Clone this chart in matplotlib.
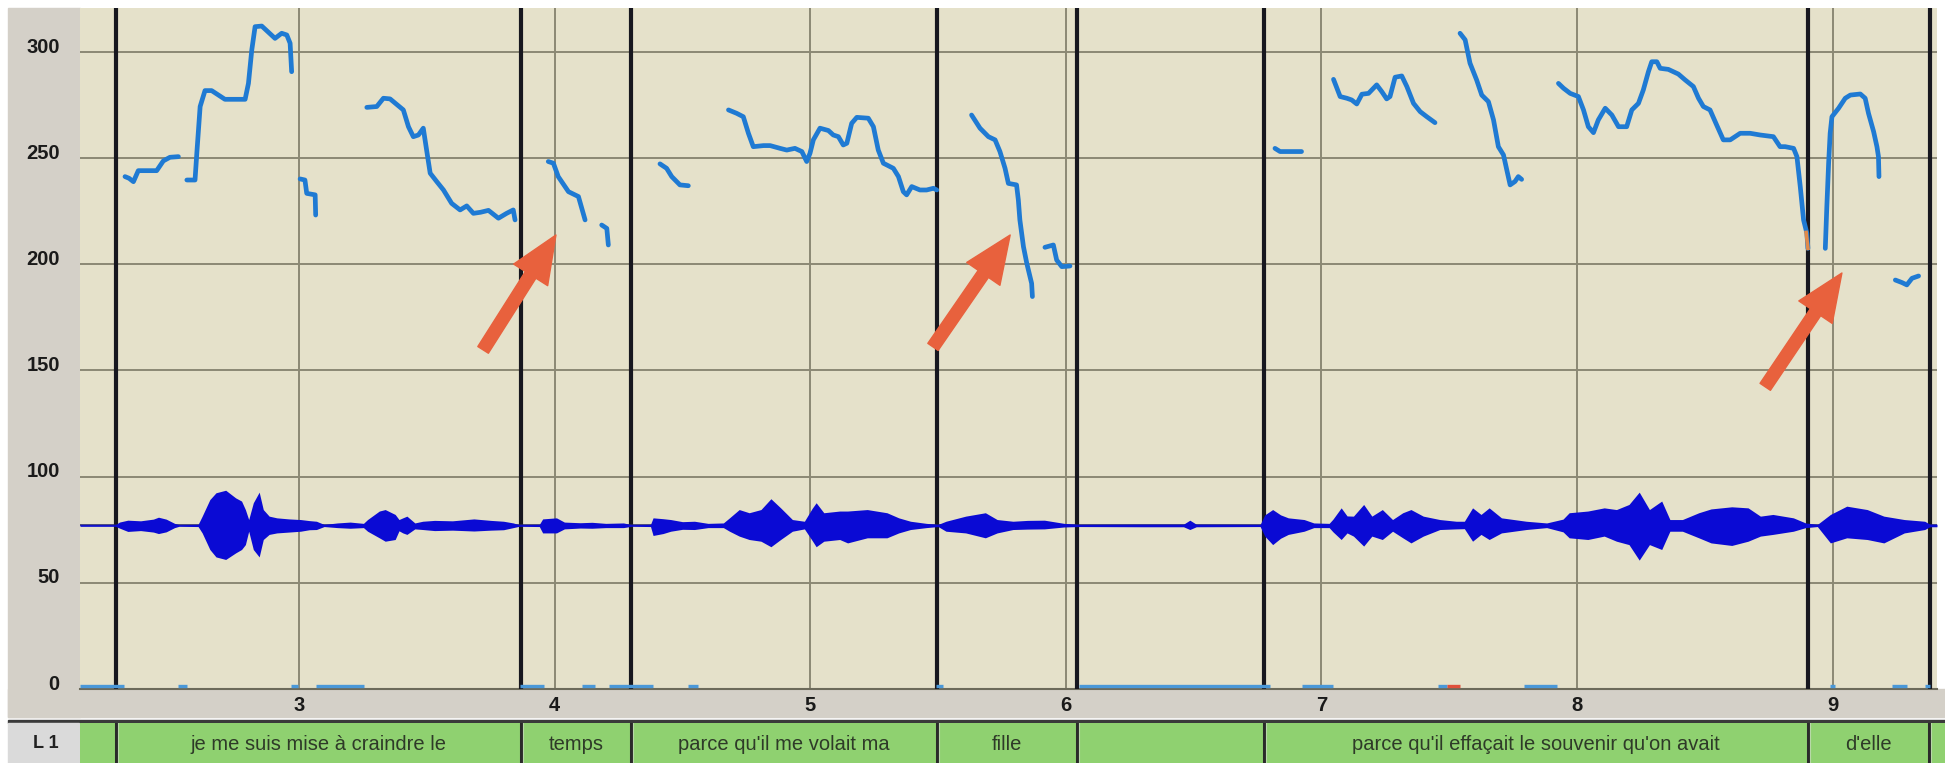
import matplotlib
matplotlib.use('Agg')
import matplotlib.pyplot as plt
from matplotlib.patches import Rectangle
from matplotlib.transforms import ScaledTranslation

# --- data ---
# pitch contour (time s, Hz) in separate voiced stretches
pitch_segs = [
    [(2.319, 241.3), (2.335, 240.5), (2.352, 238.9), (2.371, 244.1), (2.443, 244.1), (2.469, 248.7),
     (2.495, 250.4), (2.528, 250.7)],
    [(2.561, 239.7), (2.593, 239.7), (2.600, 252.3), (2.613, 274.3), (2.632, 281.8), (2.658, 281.8),
     (2.710, 277.7), (2.789, 277.7), (2.802, 285.2), (2.815, 300.9), (2.828, 311.9), (2.854, 312.2),
     (2.906, 306.4), (2.932, 308.8), (2.952, 308.0), (2.965, 304.1), (2.971, 290.7)],
    [(3.004, 240.2), (3.023, 239.7), (3.030, 233.4), (3.063, 232.7), (3.065, 223.2)],
    [(3.265, 273.9), (3.304, 274.3), (3.330, 278.2), (3.356, 277.9), (3.408, 272.7), (3.428, 264.8),
     (3.447, 260.1), (3.467, 260.9), (3.486, 264.1), (3.499, 253.8), (3.513, 242.9), (3.539, 238.9),
     (3.565, 235.0), (3.597, 228.7), (3.630, 225.6), (3.656, 227.5), (3.682, 224.0), (3.710, 224.5),
     (3.741, 225.4), (3.780, 221.7), (3.812, 224.0), (3.838, 225.6), (3.845, 220.9)],
    [(3.975, 248.4), (3.995, 247.6), (4.014, 241.3), (4.054, 234.2), (4.093, 231.9), (4.119, 220.9)],
    [(4.184, 218.5), (4.204, 216.9), (4.210, 209.1)],
    [(4.412, 247.3), (4.438, 245.2), (4.458, 241.3), (4.490, 237.4), (4.523, 237.0)],
    [(4.680, 272.7), (4.712, 271.1), (4.738, 269.5), (4.758, 261.7), (4.777, 255.4), (4.817, 255.9),
     (4.843, 255.9), (4.882, 254.6), (4.908, 253.8), (4.940, 254.6), (4.967, 253.1), (4.986, 248.4),
     (4.999, 252.3), (5.012, 258.6), (5.038, 264.1), (5.071, 263.0), (5.090, 260.9), (5.110, 260.1),
     (5.129, 256.2), (5.143, 257.0), (5.162, 266.4), (5.182, 269.2), (5.227, 268.8), (5.247, 264.8),
     (5.266, 253.8), (5.286, 247.6), (5.325, 245.2), (5.345, 241.3), (5.364, 234.2), (5.377, 232.7),
     (5.397, 236.6), (5.429, 235.0), (5.455, 235.0), (5.482, 235.8), (5.495, 235.0)],
    [(5.631, 270.3), (5.664, 264.1), (5.697, 260.1), (5.723, 258.6), (5.742, 253.1), (5.762, 245.2),
     (5.775, 238.1), (5.807, 237.4), (5.814, 230.3), (5.820, 220.9), (5.834, 208.3), (5.847, 200.5),
     (5.866, 191.0), (5.869, 184.8)],
    [(5.918, 208.0), (5.951, 209.1), (5.964, 202.0), (5.984, 198.9), (6.016, 199.2)],
    [(6.818, 254.6), (6.838, 253.1), (6.922, 253.1)],
    [(7.047, 287.1), (7.073, 279.0), (7.099, 278.2), (7.118, 277.4), (7.138, 275.5), (7.158, 280.1),
     (7.184, 280.5), (7.216, 284.5), (7.236, 281.3), (7.255, 277.9), (7.268, 279.0), (7.288, 288.1),
     (7.314, 288.7), (7.334, 283.7), (7.360, 275.8), (7.386, 271.9), (7.412, 269.5), (7.444, 266.7)],
    [(7.542, 308.8), (7.562, 305.7), (7.581, 294.7), (7.607, 286.8), (7.627, 279.7), (7.653, 276.6),
     (7.673, 268.0), (7.692, 255.4), (7.712, 251.5), (7.725, 244.4), (7.738, 237.4), (7.757, 239.0),
     (7.770, 241.3), (7.783, 240.0)],
    [(7.927, 285.2), (7.947, 282.9), (7.973, 280.5), (8.005, 279.0), (8.025, 272.7), (8.044, 264.8),
     (8.064, 262.0), (8.083, 268.0), (8.110, 273.5), (8.136, 270.3), (8.162, 264.8), (8.194, 264.8),
     (8.214, 272.7), (8.240, 275.8), (8.259, 282.1), (8.279, 290.7), (8.292, 295.4), (8.312, 295.4),
     (8.325, 292.3), (8.357, 291.8), (8.396, 289.6), (8.423, 286.8), (8.455, 283.7), (8.475, 278.2),
     (8.494, 274.3), (8.520, 272.7), (8.546, 265.6), (8.572, 258.6), (8.599, 258.6), (8.638, 261.7),
     (8.677, 261.7), (8.716, 260.9), (8.768, 260.1), (8.794, 255.4), (8.814, 255.4), (8.847, 254.6),
     (8.860, 250.7), (8.873, 236.6), (8.886, 220.9), (8.899, 214.6), (8.903, 207.5)],
    [(8.971, 207.5), (8.977, 227.2), (8.984, 247.6), (8.990, 261.7), (8.997, 269.5), (9.023, 273.5),
     (9.049, 278.2), (9.069, 279.7), (9.108, 280.2), (9.127, 278.2), (9.140, 271.1), (9.160, 262.5),
     (9.173, 255.4), (9.179, 250.7), (9.181, 241.3)],
    [(9.245, 192.6), (9.271, 191.4), (9.290, 190.3), (9.310, 193.4), (9.336, 194.5)],
]
pitch_tip_orange = [(8.896, 215.0), (8.903, 207.5)]

# waveform envelope around its baseline (time s, upper amp, lower amp)
wave_base = 77.0
wave_t = [2.143, 2.282, 2.297, 2.33, 2.38, 2.43, 2.45, 2.48, 2.513, 2.53, 2.605, 2.621, 2.651, 2.675,
          2.713, 2.752, 2.775, 2.790, 2.803, 2.821, 2.844, 2.860, 2.883, 2.913, 2.960, 3.006, 3.040,
          3.068, 3.098, 3.15, 3.20, 3.252, 3.268, 3.314, 3.337, 3.376, 3.391, 3.406, 3.422, 3.453,
          3.484, 3.530, 3.60, 3.684, 3.75, 3.80, 3.838, 3.86, 3.940, 3.953, 4.007, 4.038, 4.10, 4.146,
          4.20, 4.269, 4.30, 4.375, 4.385, 4.424, 4.454, 4.50, 4.547, 4.60, 4.66, 4.684, 4.722, 4.761,
          4.807, 4.846, 4.884, 4.930, 4.977, 5.007, 5.023, 5.053, 5.115, 5.146, 5.223, 5.300, 5.346,
          5.392, 5.454, 5.50, 5.531, 5.608, 5.685, 5.731, 5.793, 5.85, 5.916, 5.993, 6.05, 6.30, 6.46,
          6.485, 6.51, 6.76, 6.778, 6.809, 6.840, 6.870, 6.932, 6.97, 7.03, 7.045, 7.077, 7.100, 7.125,
          7.165, 7.197, 7.238, 7.278, 7.318, 7.350, 7.398, 7.463, 7.527, 7.559, 7.591, 7.624, 7.656,
          7.704, 7.801, 7.881, 7.945, 7.969, 8.042, 8.106, 8.154, 8.203, 8.243, 8.283, 8.331, 8.363,
          8.412, 8.476, 8.524, 8.605, 8.669, 8.717, 8.766, 8.846, 8.894, 8.94, 8.991, 9.055, 9.135,
          9.200, 9.280, 9.360, 9.38, 9.408]
wave_hi = [0.4, 0.4, 1.6, 2.5, 2.2, 3.0, 3.9, 3.0, 1.0, 0.4, 0.5, 4.4, 12.2, 15.4,
           16.6, 13.0, 11.5, 7.5, 2.8, 10.7, 15.7, 7.5, 4.4, 3.6, 3.1, 2.8, 2.3,
           2.0, 0.5, 1.2, 1.6, 1.0, 2.8, 6.8, 7.5, 5.2, 2.8, 3.6, 4.4, 1.2,
           2.0, 2.4, 2.2, 3.1, 2.4, 2.0, 1.2, 0.4, 0.5, 3.1, 3.6, 1.6, 1.3, 1.5,
           1.0, 1.2, 0.4, 0.5, 3.6, 3.2, 2.8, 1.8, 2.0, 1.0, 1.2, 3.6, 7.5, 6.0,
           7.5, 12.6, 8.3, 2.8, 2.0, 8.0, 10.7, 6.0, 6.8, 6.8, 7.5, 6.0, 3.6,
           2.0, 1.0, 0.5, 2.0, 4.4, 6.0, 2.8, 2.0, 2.4, 2.5, 1.0, 0.5, 0.6, 0.6,
           2.5, 0.6, 0.5, 5.0, 7.5, 5.0, 3.6, 2.8, 1.2, 1.0, 3.0, 8.3, 4.5, 4.4,
           9.9, 4.4, 7.5, 2.8, 6.0, 7.5, 4.4, 2.8, 2.0, 2.0, 8.3, 5.2, 8.3,
           3.6, 2.0, 1.2, 3.0, 6.0, 6.8, 8.3, 7.5, 9.9, 15.7, 7.5, 11.5, 2.8,
           2.8, 6.0, 7.8, 8.8, 8.3, 4.4, 5.2, 3.6, 1.2, 0.5, 5.2, 9.1, 7.5,
           4.4, 2.8, 2.0, 0.6, 0.6]
wave_lo = [0.4, 0.4, 1.2, 2.8, 2.4, 3.1, 3.8, 3.0, 1.0, 0.4, 0.5, 3.5, 11.3, 14.8,
           16.0, 12.9, 11.3, 9.0, 2.7, 11.3, 14.8, 6.6, 4.2, 3.5, 3.1, 2.7, 2.0,
           1.9, 0.5, 1.0, 1.3, 1.0, 2.7, 5.8, 7.4, 6.6, 2.5, 3.5, 4.2, 1.6,
           1.9, 2.4, 2.2, 2.6, 2.2, 2.0, 1.0, 0.4, 0.5, 3.5, 3.5, 1.6, 1.2, 1.3,
           1.0, 1.0, 0.4, 0.5, 4.7, 3.8, 2.7, 1.8, 1.9, 1.0, 1.0, 2.7, 5.0, 6.6,
           7.4, 10.0, 6.6, 2.7, 1.6, 7.0, 10.0, 7.4, 6.6, 8.2, 5.8, 5.8, 3.5,
           1.9, 1.0, 0.5, 2.7, 3.5, 5.8, 3.5, 1.9, 1.7, 1.6, 0.7, 0.5, 0.6, 0.6,
           1.9, 0.6, 0.5, 5.0, 9.0, 6.0, 4.2, 2.7, 1.0, 1.0, 3.0, 6.6, 3.5, 5.0,
           9.7, 5.0, 6.6, 2.7, 5.8, 8.2, 5.0, 1.9, 1.6, 1.5, 7.4, 4.2, 6.6,
           3.5, 1.9, 1.0, 3.0, 5.8, 6.6, 5.0, 7.4, 9.0, 16.3, 9.0, 11.3, 2.7,
           2.7, 5.8, 8.2, 9.4, 7.4, 5.0, 4.2, 2.7, 1.0, 0.5, 8.2, 5.8, 6.6,
           8.2, 3.5, 1.9, 0.6, 0.6]

# unvoiced / zero markers on the 0 line (start, end, colour)
zero_marks = [(2.143, 2.315, 'b'), (2.527, 2.562, 'b'), (2.969, 2.996, 'b'), (3.067, 3.254, 'b'),
              (3.865, 3.959, 'b'), (4.107, 4.158, 'b'), (4.213, 4.385, 'b'), (4.52, 4.56, 'b'),
              (5.49, 5.52, 'b'), (6.05, 6.80, 'b'), (6.924, 7.046, 'b'), (7.456, 7.49, 'b'),
              (7.49, 7.54, 'r'), (7.793, 7.922, 'b'), (8.99, 9.01, 'b'), (9.23, 9.29, 'b'),
              (9.36, 9.38, 'b')]

# segment boundaries and transcription
bounds = [2.284, 3.869, 4.298, 5.497, 6.043, 6.777, 8.903, 9.379]
cell_edges = [2.143, 2.284, 3.869, 4.298, 5.497, 6.043, 6.777, 8.903, 9.379, 9.44]
cell_labels = ['', 'je me suis mise à craindre le', 'temps', "parce qu'il me volait ma", 'fille', '',
               "parce qu'il effaçait le souvenir qu'on avait", "d'elle", '']

x_ticks = [3, 4, 5, 6, 7, 8, 9]
y_ticks = [0, 50, 100, 150, 200, 250, 300]

# arrows added on top (tail, tip)
arrows = [((3.720, 159.7), (4.005, 213.8)),
          ((5.480, 161.1), (5.782, 213.8)),
          ((8.736, 142.3), (9.036, 195.9))]

# --- figure ---
W, H = 1945, 763
fig = plt.figure(figsize=(W / 100, H / 100), dpi=100, facecolor='white')
sans = ['Liberation Sans', 'DejaVu Sans']


def box(x0, y0, x1, y1, col):
    # pixel box, y measured from top
    fig.patches.append(Rectangle((x0 / W, 1 - y1 / H), (x1 - x0) / W, (y1 - y0) / H,
                                 transform=fig.transFigure, color=col, zorder=-5))


box(8, 8, 80, 717, '#d4d0c8')
box(8, 689, 1945, 717, '#d4d0c8')
box(8, 720, 1945, 723, '#3a3a3a')
box(8, 723, 79, 763, '#dadada')
fig.text(46 / W, 1 - 743 / H, 'L 1', ha='center', va='center', fontsize=13, fontweight='bold',
         family=sans, color='#222222')

ax = fig.add_axes([80 / W, 1 - 689 / H, (1937 - 80) / W, (689 - 8) / H])
ax.set_facecolor('#e5e1ca')
ax.set_xlim(2.143, 9.408)
ax.set_ylim(0, 320.7)
for s in ['top', 'right', 'left']:
    ax.spines[s].set_visible(False)
ax.spines['bottom'].set_color('#6c6a5a')
ax.spines['bottom'].set_linewidth(1.5)

ax.set_xticks(x_ticks)
ax.set_xticklabels([str(v) for v in x_ticks])
ax.set_yticks(y_ticks)
ax.set_yticklabels([str(v) for v in y_ticks])
ax.tick_params(length=0)
ax.tick_params(axis='x', pad=5)
ax.tick_params(axis='y', pad=14.5)
for lab in ax.get_xticklabels() + ax.get_yticklabels():
    lab.set_fontfamily(sans)
    lab.set_fontweight('bold')
    lab.set_fontsize(14.5)
    lab.set_color('#1a1a1a')
for lab in ax.get_yticklabels():
    lab.set_transform(lab.get_transform() + ScaledTranslation(0, 5 / 72, fig.dpi_scale_trans))
ax.grid(True, color='#8b8874', lw=1.4)
ax.set_axisbelow(True)

for b in bounds:
    ax.axvline(b, color='#17171f', lw=3.0, zorder=3)

ax.plot([2.143, 9.408], [wave_base, wave_base], color='#20206a', lw=1.1, zorder=4)
ax.fill_between(wave_t, [wave_base + h for h in wave_hi], [wave_base - l for l in wave_lo],
                color='#0a0ad4', lw=0, zorder=4)

for a, b, c in zero_marks:
    ax.plot([a, b], [1.2, 1.2], color='#4a98d8' if c == 'b' else '#e0503a', lw=2.4,
            solid_capstyle='butt', zorder=3)

for seg in pitch_segs:
    ax.plot([p[0] for p in seg], [p[1] for p in seg], color='#1f7ad3', lw=3.4,
            solid_capstyle='round', solid_joinstyle='round', zorder=5)
ax.plot([p[0] for p in pitch_tip_orange], [p[1] for p in pitch_tip_orange], color='#e08a4a',
        lw=2.6, zorder=6)

for tail, tip in arrows:
    ax.annotate('', xy=tip, xytext=tail,
                arrowprops=dict(arrowstyle='simple,head_length=3.4,head_width=2.9,tail_width=0.9',
                                mutation_scale=10, color='#e8613d', shrinkA=0, shrinkB=0),
                zorder=7)

# transcription row
axl = fig.add_axes([80 / W, 0, (1945 - 80) / W, (763 - 723) / H])
axl.set_xlim(2.143, 9.44)
axl.set_ylim(0, 1)
axl.axis('off')
axl.add_patch(Rectangle((2.143, 0), 9.44 - 2.143, 1, color='#8fd170', zorder=0))
for b in bounds:
    axl.axvline(b, color='#2a2a2a', lw=2.2)
    axl.axvline(b + 0.008, color='#b8d8a8', lw=0.8)
for i, lab in enumerate(cell_labels):
    if lab:
        axl.text((cell_edges[i] + cell_edges[i + 1]) / 2, 0.45, lab, ha='center', va='center',
                 fontsize=14.5, family=sans, color='#2e3a28')

fig.savefig('out.png', dpi=100, facecolor='white')
